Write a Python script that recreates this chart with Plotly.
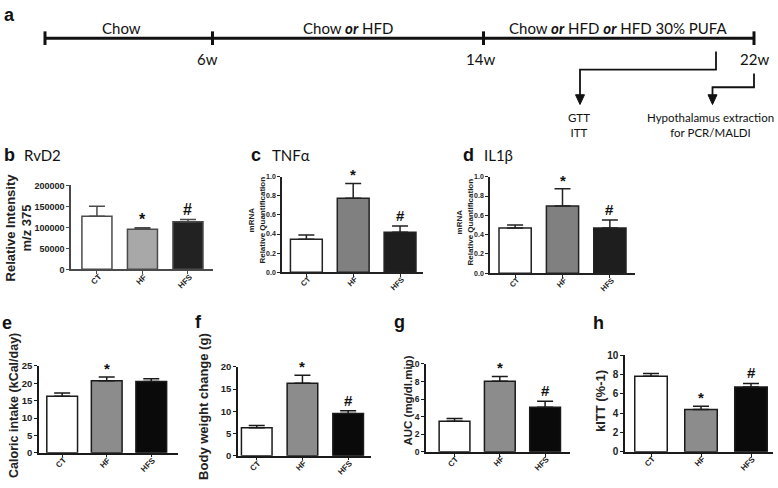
import plotly.graph_objects as go

W, H = 778, 488

groups = ["CT", "HF", "HFS"]

rvd2_mean = [126900, 95500, 113400]
rvd2_sem = [23800, 3700, 5300]
tnf_mean = [0.345, 0.775, 0.42]
tnf_sem = [0.045, 0.155, 0.065]
il1b_mean = [0.468, 0.697, 0.468]
il1b_sem = [0.032, 0.178, 0.084]
caloric_mean = [16.3, 20.7, 20.5]
caloric_sem = [0.9, 1.1, 0.8]
bw_mean = [6.3, 16.3, 9.5]
bw_sem = [0.5, 1.8, 0.6]
auc_mean = [3.47, 8.02, 5.07]
auc_sem = [0.33, 0.56, 0.68]
kitt_mean = [7.81, 4.38, 6.70]
kitt_sem = [0.30, 0.33, 0.37]

sig_bcd = ["", "*", "#"]
sig_e = ["", "*", ""]
sig_fgh = ["", "*", "#"]

phase_labels = ["Chow", "Chow <b><i>or</i></b> HFD",
                "Chow <b><i>or</i></b> HFD <b><i>or</i></b> HFD 30% PUFA"]
week_labels = ["6w", "14w", "22w"]


def px(x):
    return x / W


def py(y):
    return 1 - y / H


ARIAL = "Liberation Sans, Arial, sans-serif"
CAL = "Lato, Open Sans, sans-serif"

# rough bold-Arial advance widths (em) to place the rotated category labels
CHAR_W = {"C": 0.722, "T": 0.611, "H": 0.722, "F": 0.611, "S": 0.667}

panels = [
    dict(mean=rvd2_mean, sem=rvd2_sem, sig=sig_bcd, x=(71, 213), y=(184, 270),
         xr=[-0.57, 2.55], yr=[0, 200000], dtick=50000, fmt="d",
         fills=["#ffffff", "#a8a8a8", "#222222"], edge="#4a4a4a", tick=9, xt=8,
         width=0.66, mark=16),
    dict(mean=tnf_mean, sem=tnf_sem, sig=sig_bcd, x=(282, 423), y=(175, 273),
         xr=[-0.52, 2.49], yr=[0, 1.0], dtick=0.2, fmt=".1f",
         fills=["#ffffff", "#808080", "#1e1e1e"], edge="#222222", tick=7, xt=7.5,
         width=0.68, mark=15),
    dict(mean=il1b_mean, sem=il1b_sem, sig=sig_bcd, x=(490, 635), y=(175, 274),
         xr=[-0.53, 2.53], yr=[0, 1.0], dtick=0.2, fmt=".1f",
         fills=["#ffffff", "#808080", "#1e1e1e"], edge="#222222", tick=7, xt=7.5,
         width=0.68, mark=15),
    dict(mean=caloric_mean, sem=caloric_sem, sig=sig_e, x=(39, 178), y=(369, 458),
         xr=[-0.52, 2.6], yr=[0, 25], dtick=5, fmt="d",
         fills=["#ffffff", "#8c8c8c", "#0a0a0a"], edge="#1a1a1a", tick=9.5, xt=8,
         width=0.69, mark=15),
    dict(mean=bw_mean, sem=bw_sem, sig=sig_fgh, x=(238, 371), y=(370, 461),
         xr=[-0.41, 2.5], yr=[0, 20], dtick=5, fmt="d",
         fills=["#ffffff", "#8c8c8c", "#0a0a0a"], edge="#1a1a1a", tick=9.5, xt=8,
         width=0.67, mark=15),
    dict(mean=auc_mean, sem=auc_sem, sig=sig_fgh, x=(426, 570), y=(367, 457),
         xr=[-0.63, 2.55], yr=[0, 10], dtick=2, fmt="d",
         fills=["#ffffff", "#8c8c8c", "#0a0a0a"], edge="#1a1a1a", tick=8.5, xt=8,
         width=0.68, mark=15),
    dict(mean=kitt_mean, sem=kitt_sem, sig=sig_fgh, x=(625, 773), y=(358, 457),
         xr=[-0.52, 2.44], yr=[0, 10], dtick=2, fmt="d",
         fills=["#ffffff", "#8c8c8c", "#0a0a0a"], edge="#1a1a1a", tick=10, xt=8,
         width=0.65, mark=15),
]

fig = go.Figure()
annotations = []
layout_axes = {}

for i, p in enumerate(panels, start=1):
    xa = "x" if i == 1 else f"x{i}"
    ya = "y" if i == 1 else f"y{i}"
    fig.add_trace(go.Bar(
        x=groups, y=p["mean"], xaxis=xa, yaxis=ya, width=p["width"],
        marker=dict(color=p["fills"], line=dict(color=p["edge"], width=1.5)),
        error_y=dict(type="data", array=p["sem"], arrayminus=[0, 0, 0],
                     symmetric=False, color=p["edge"], thickness=1.5, width=8),
        hoverinfo="skip",
    ))
    layout_axes["xaxis" if i == 1 else f"xaxis{i}"] = dict(
        type="category", domain=[px(p["x"][0]), px(p["x"][1])], anchor=ya,
        range=p["xr"], showline=True, linecolor=p["edge"], linewidth=1.5,
        ticks="outside", ticklen=3, tickwidth=1.2, tickcolor=p["edge"],
        showticklabels=False, showgrid=False, zeroline=False, fixedrange=True,
    )
    layout_axes["yaxis" if i == 1 else f"yaxis{i}"] = dict(
        domain=[py(p["y"][1]), py(p["y"][0])], anchor=xa, range=p["yr"],
        dtick=p["dtick"], tick0=0, tickformat=p["fmt"],
        showline=True, linecolor=p["edge"], linewidth=1.5, ticks="outside",
        ticklen=3, tickwidth=1.2, tickcolor=p["edge"],
        tickfont=dict(family=ARIAL, size=p["tick"], color="#222", weight="bold"),
        showgrid=False, zeroline=False, fixedrange=True,
    )
    # rotated category labels, ending just under each tick (GraphPad style)
    for g in groups:
        L = sum(CHAR_W[c] for c in g) * p["xt"]
        annotations.append(dict(
            x=g, y=0, xref=xa, yref=ya, text=f"<b>{g}</b>", textangle=-45,
            showarrow=False, xanchor="center", yanchor="middle",
            xshift=3 - 0.354 * L, yshift=-(3.5 + 0.354 * (L + p["xt"])),
            font=dict(family=ARIAL, size=p["xt"], color="#222"),
        ))
    for g, m, s, t in zip(groups, p["mean"], p["sem"], p["sig"]):
        if t:
            annotations.append(dict(
                x=g, y=m + s, xref=xa, yref=ya, text=f"<b>{t}</b>",
                showarrow=False, yanchor="bottom", yshift=-2 if t == "*" else 0,
                font=dict(family=ARIAL, size=p["mark"], color="#111"),
            ))

# y axis titles
ytitles = [
    ("Relative Intensity<br>m/z 375", 19, 227, 13),
    ("mRNA<br>Relative Quantification", 257, 220, 8),
    ("mRNA<br>Relative Quantification", 465, 222, 8),
    ("Caloric intake (kCal/day)", 14, 410, 12.5),
    ("Body weight change (g)", 204, 411, 13),
    ("AUC (mg/dl.min)", 408.5, 405, 11.5),
    ("kITT (%-1)", 600, 405, 13),
]
for text, x, y, size in ytitles:
    annotations.append(dict(
        x=px(x), y=py(y), xref="paper", yref="paper", text=f"<b>{text}</b>",
        textangle=-90, showarrow=False, xanchor="center", yanchor="middle",
        font=dict(family=ARIAL, size=size, color="#222"),
    ))

# panel letters
for letter, x, y in [("a", 2, 9), ("b", 2, 153), ("c", 249, 153), ("d", 461, 153),
                     ("e", 0, 325), ("f", 193, 324), ("g", 392, 324), ("h", 591, 325)]:
    annotations.append(dict(
        x=px(x), y=py(y), xref="paper", yref="paper", text=f"<b>{letter}</b>",
        showarrow=False, xanchor="left", yanchor="middle",
        font=dict(family=ARIAL, size=18, color="#111"),
    ))

# panel headers
for text, x, y in [("RvD2", 22, 153), ("TNFα", 270, 153), ("IL1β", 482, 153)]:
    annotations.append(dict(
        x=px(x), y=py(y), xref="paper", yref="paper", text=text,
        showarrow=False, xanchor="left", yanchor="middle",
        font=dict(family=CAL, size=15, color="#111"),
    ))

# timeline (panel a)
tl_y = 33
tl_ticks = [45, 212.5, 483.5, 754]
shapes = [dict(type="line", xref="paper", yref="paper",
               x0=px(tl_ticks[0]), x1=px(tl_ticks[-1]), y0=py(tl_y), y1=py(tl_y),
               line=dict(color="#111", width=3))]
for tx in tl_ticks:
    shapes.append(dict(type="line", xref="paper", yref="paper",
                       x0=px(tx), x1=px(tx), y0=py(tl_y - 7), y1=py(tl_y + 7),
                       line=dict(color="#111", width=3)))
for text, x in zip(phase_labels, [121, 347.5, 618]):
    annotations.append(dict(
        x=px(x), y=py(23), xref="paper", yref="paper", text=text,
        showarrow=False, xanchor="center", yanchor="middle",
        font=dict(family=CAL, size=15, color="#111"),
    ))
for text, x in zip(week_labels, [208, 481, 754]):
    annotations.append(dict(
        x=px(x), y=py(54), xref="paper", yref="paper", text=text,
        showarrow=False, xanchor="center", yanchor="middle",
        font=dict(family=CAL, size=15, color="#111"),
    ))


def path(points):
    s = "M " + " L ".join(f"{px(a)},{py(b)}" for a, b in points)
    return s


for pts, tip in [([(716, 46.7), (716, 65.3), (580, 65.3), (580, 95)], (580, 101)),
                 ([(754, 69.3), (754, 83.3), (712.5, 83.3), (712.5, 95)], (712.5, 101))]:
    shapes.append(dict(type="path", xref="paper", yref="paper", path=path(pts),
                       line=dict(color="#111", width=1.8)))
    tx, ty = tip
    shapes.append(dict(type="path", xref="paper", yref="paper",
                       path=path([(tx - 4.5, ty - 10), (tx + 4.5, ty - 10), (tx, ty)]) + " Z",
                       fillcolor="#111", line=dict(color="#111", width=1)))

for text, x in [("GTT<br>ITT", 579), ("Hypothalamus extraction<br>for PCR/MALDI", 710)]:
    annotations.append(dict(
        x=px(x), y=py(121.5), xref="paper", yref="paper", text=text,
        showarrow=False, xanchor="center", yanchor="middle",
        font=dict(family=CAL, size=11.5, color="#111"),
    ))

fig.update_layout(
    width=W, height=H, margin=dict(l=0, r=0, t=0, b=0),
    paper_bgcolor="white", plot_bgcolor="white", showlegend=False,
    annotations=annotations, shapes=shapes, bargap=0.3,
    **layout_axes,
)

# the page body has a default 8px margin; drop it so the figure sits at the corner
fig.write_html("out.html", config={"displayModeBar": False},
               post_script="document.body.style.margin='0';")
